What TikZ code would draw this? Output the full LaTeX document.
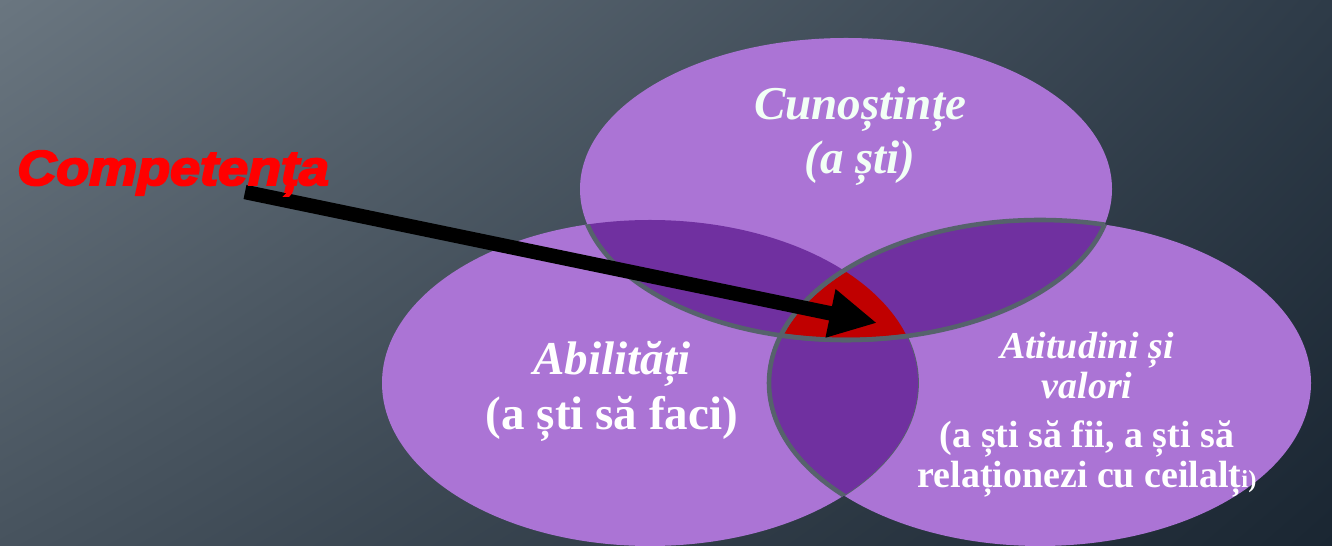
\documentclass[tikz,border=0pt]{standalone}
\usepackage{fontspec}
\setmainfont{Liberation Serif}
\newfontfamily\compfont[FakeBold=4]{Liberation Sans}
\usetikzlibrary{arrows.meta,shadings}
\definecolor{vennlight}{HTML}{AB74D5}
\definecolor{venndark}{HTML}{7030A0}
\definecolor{vennred}{HTML}{C00000}
\definecolor{vennedge}{HTML}{56626C}
\definecolor{bgul}{HTML}{6A7680}
\definecolor{bgur}{HTML}{2E3B48}
\definecolor{bgll}{HTML}{47535E}
\definecolor{bglr}{HTML}{1A2632}
\definecolor{cuntext}{HTML}{F2FFF6}
\newcommand{\ellCun}{(846,189) ellipse [x radius=266, y radius=151]}
\newcommand{\ellAbil}{(650,383) ellipse [x radius=268, y radius=163]}
\newcommand{\ellAtit}{(1040,383) ellipse [x radius=271, y radius=163]}

\begin{document}
\begin{tikzpicture}[x=0.02cm, y=-0.02cm,
    edge/.style={vennedge, line width=2.6pt},
    label/.style={text=white, align=center, font=\bfseries}]
  \useasboundingbox (0,0) rectangle (1332,546);
  % Background
  \shade[upper left=bgul, upper right=bgur, lower left=bgll, lower right=bglr]
    (0,0) rectangle (1332,546);
  % Circles
  \fill[vennlight] \ellAbil;
  \fill[vennlight] \ellAtit;
  \fill[vennlight] \ellCun;
  \begin{scope}
    \clip \ellAtit;
    \draw[vennedge, line width=1pt] \ellAbil;
  \end{scope}
  % Overlaps
  \begin{scope}
    \clip \ellCun;
    \fill[venndark] \ellAbil;
    \fill[venndark] \ellAtit;
  \end{scope}
  \begin{scope}
    \clip \ellAbil;
    \fill[venndark] \ellAtit;
  \end{scope}
  \begin{scope}
    \clip \ellCun;
    \clip \ellAbil;
    \fill[vennred] \ellAtit;
  \end{scope}
  % Edges
  \begin{scope}
    \clip \ellAbil;
    \draw[edge] \ellCun;
    \draw[edge] \ellAtit;
  \end{scope}
  \begin{scope}
    \clip \ellAtit;
    \draw[edge] \ellCun;
  \end{scope}
  \begin{scope}
    \clip \ellCun;
    \draw[edge] \ellAtit;
  \end{scope}
  % Labels
  \node[label, text=cuntext, font=\fontsize{26.8}{30.8}\selectfont\bfseries\itshape]
    (cun) at (860,136) {Cunoștințe\\(a ști)};
  \node[label, font=\fontsize{26.8}{31.3}\selectfont\bfseries] (abil) at (612,391)
    {\itshape Abilități\\(a ști să faci)};
  \node[label, font=\fontsize{21.6}{22.8}\selectfont\bfseries] (atit) at (1087,415)
    {\itshape Atitudini și\\\itshape valori\\[0.18cm](a ști să fii, a ști să\\relaționezi cu ceilalț{\fontsize{14}{16}\selectfont i)}};
  % Arrow
  \coordinate (tail) at (245,192);
  \coordinate (tip) at (877,323);
  \draw[-{Triangle[length=0.95cm, width=0.92cm]}, line width=0.29cm] (tail) -- (tip);
  \node[red, anchor=base west, inner sep=0pt, font=\fontsize{27.9}{30}\compfont\bfseries\itshape, xscale=1.1]
    (comp) at (17,185) {Competența};
\end{tikzpicture}
\end{document}
